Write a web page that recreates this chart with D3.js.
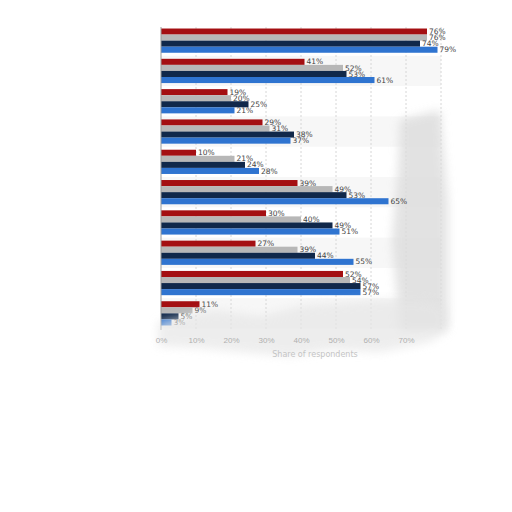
<!DOCTYPE html>
<html lang="en">
<head>
  <meta charset="UTF-8" />
  <script src="https://d3js.org/d3.v7.min.js"></script>
  <style>
    body { margin: 0; background: #fff; font-family: "DejaVu Sans", sans-serif; }
    .lbl { font-size: 7.5px; fill: #444; }
    .tick text { font-size: 8px; fill: #b0b0b0; }
  </style>
</head>
<body>
  <svg width="512" height="512"></svg>

  <script>
  // data
  const groups = ["G1", "G2", "G3", "G4", "G5", "G6", "G7", "G8", "G9", "G10"];
  const series = ["Series A", "Series B", "Series C", "Series D"];
  const seriesA = [76, 41, 19, 29, 10, 39, 30, 27, 52, 11];
  const seriesB = [76, 52, 20, 31, 21, 49, 40, 39, 54, 9];
  const seriesC = [74, 53, 25, 38, 24, 53, 49, 44, 57, 5];
  const seriesD = [79, 61, 21, 37, 28, 65, 51, 55, 57, 3];
  const ticks = [0, 10, 20, 30, 40, 50, 60, 70];

  const colors = ["#a40f12", "#b7b7b7", "#10284a", "#2f74d0"];
  const values = [seriesA, seriesB, seriesC, seriesD];

  const svg = d3.select("svg");

  const x = d3.scaleLinear().domain([0, 80]).range([161, 441]);
  const y0 = d3.scaleBand().domain(groups).range([27, 327])
    .paddingInner(0.2).paddingOuter(0.05);
  const y1 = d3.scaleBand().domain(series).range([0, y0.bandwidth()]);

  // soft fog in the lower right, like the reference
  const defs = svg.append("defs");
  defs.append("filter").attr("id", "fog")
    .attr("x", "-20%").attr("y", "-20%").attr("width", "140%").attr("height", "140%")
    .append("feGaussianBlur").attr("stdDeviation", 5);

  // alternate row bands
  svg.append("g")
    .selectAll("rect")
    .data(groups.filter((d, i) => i % 2 === 1))
    .enter().append("rect")
    .attr("x", x(0))
    .attr("y", d => y0(d) - y0.step() * y0.paddingInner() / 2)
    .attr("width", x(80) - x(0))
    .attr("height", y0.step())
    .attr("fill", "#f7f7f7");

  // grid
  svg.append("g")
    .selectAll("line")
    .data(ticks.slice(1).concat([80]))
    .enter().append("line")
    .attr("x1", d => x(d)).attr("x2", d => x(d))
    .attr("y1", 27).attr("y2", 330)
    .attr("stroke", "#d6d6d6")
    .attr("stroke-dasharray", "2,2");

  // fog behind the bars on the right
  const fogBack = svg.append("g").attr("filter", "url(#fog)").attr("opacity", 0.8);
  fogBack.append("path")
    .attr("d", "M400,120 L440,110 L448,200 L448,330 L400,330 L392,240 L398,170 Z")
    .attr("fill", "#dcdcdc");

  const g = svg.append("g")
    .selectAll("g")
    .data(groups)
    .enter().append("g")
    .attr("transform", d => `translate(0,${y0(d)})`);

  g.selectAll("rect")
    .data((d, i) => series.map((s, j) => ({ s, j, v: values[j][i] })))
    .enter().append("rect")
    .attr("x", x(0))
    .attr("y", d => y1(d.s))
    .attr("width", d => x(d.v) - x(0))
    .attr("height", y1.bandwidth())
    .attr("fill", d => colors[d.j]);

  g.selectAll("text")
    .data((d, i) => series.map((s, j) => ({ s, j, v: values[j][i] })))
    .enter().append("text")
    .attr("class", "lbl")
    .attr("x", d => x(d.v) + 2)
    .attr("y", d => y1(d.s) + y1.bandwidth() / 2)
    .attr("dy", "0.35em")
    .text(d => d.v + "%");

  // left axis line
  svg.append("line")
    .attr("x1", x(0)).attr("x2", x(0))
    .attr("y1", 27).attr("y2", 330)
    .attr("stroke", "#999");

  // fog over the bottom strip
  const fog = svg.append("g").attr("filter", "url(#fog)").attr("opacity", 0.7);
  fog.append("path")
    .attr("d", "M158,322 L215,310 L260,316 L300,306 L340,303 L380,300 L420,300 L445,305 L446,332 L430,342 L380,352 L330,350 L290,356 L240,352 L200,348 L158,346 Z")
    .attr("fill", "#e6e6e6");

  // bottom axis
  const xAxis = svg.append("g")
    .attr("transform", "translate(0,333)")
    .call(d3.axisBottom(x).tickValues(ticks).tickFormat(d => d + "%").tickSize(0).tickPadding(4));
  xAxis.select(".domain").remove();

  svg.append("text")
    .attr("x", 315).attr("y", 357)
    .attr("text-anchor", "middle")
    .style("font-size", "8px")
    .attr("fill", "#c4c4c4")
    .text("Share of respondents");
  </script>
</body>
</html>
